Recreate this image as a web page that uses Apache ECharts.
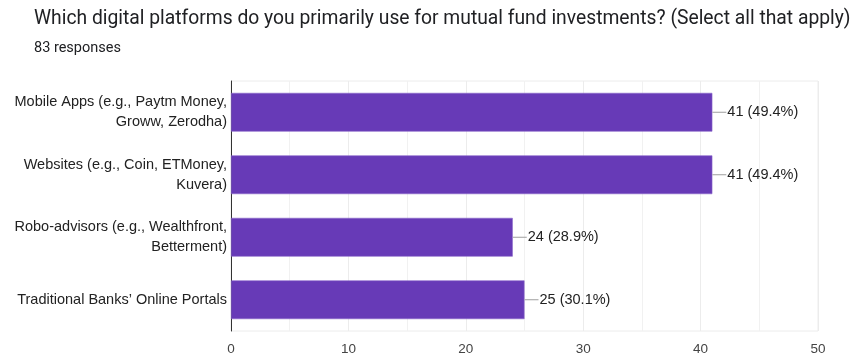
<!DOCTYPE html>
<html>
<head>
<meta charset="utf-8">
<script src="https://cdn.jsdelivr.net/npm/echarts@6/dist/echarts.min.js"></script>
<style>
  html, body { margin: 0; padding: 0; background: #fff; }
  #chart { width: 865px; height: 356px; }
</style>
</head>
<body>
<div id="chart"></div>
<script>
// Survey question and response count
const questionTitle = 'Which digital platforms do you primarily use for mutual fund investments? (Select all that apply)';
const responseNote = '83 responses';

// Answer options (top to bottom) and their counts
const platforms = [
  'Mobile Apps (e.g., Paytm Money,\nGroww, Zerodha)',
  'Websites (e.g., Coin, ETMoney,\nKuvera)',
  'Robo-advisors (e.g., Wealthfront,\nBetterment)',
  'Traditional Banks\u2019 Online Portals'
];
const counts = [41, 41, 24, 25];
const percents = ['49.4', '49.4', '28.9', '30.1'];

// Value axis ticks
const axisTicks = [0, 10, 20, 30, 40, 50];

const chart = echarts.init(document.getElementById('chart'), null, { renderer: 'canvas' });

chart.setOption({
  animation: false,
  backgroundColor: '#ffffff',
  title: [
    {
      text: questionTitle,
      left: 29, top: 5,
      textStyle: { fontFamily: 'Roboto', fontSize: 19.3, fontWeight: 'normal', color: '#202124' }
    },
    {
      text: responseNote,
      left: 29, top: 36,
      textStyle: { fontFamily: 'Roboto', fontSize: 14.5, fontWeight: 'normal', color: '#202124' }
    }
  ],
  grid: { left: 231, right: 47, top: 81, bottom: 24, containLabel: false,
          show: true, borderColor: '#ececec', borderWidth: 1 },
  xAxis: {
    type: 'value',
    min: axisTicks[0],
    max: axisTicks[axisTicks.length - 1],
    interval: 10,
    axisLine: { show: false },
    axisTick: { show: false },
    axisLabel: { fontFamily: 'Liberation Sans, Arial', fontSize: 13.5, color: '#444', margin: 11 },
    splitLine: { show: true, lineStyle: { color: '#ececec', width: 1 } },
    minorTick: { show: false, splitNumber: 2 },
    minorSplitLine: { show: true, lineStyle: { color: '#f1f1f1', width: 1 } }
  },
  yAxis: {
    type: 'category',
    inverse: true,
    data: platforms,
    axisLine: { show: true, lineStyle: { color: '#333', width: 1 } },
    axisTick: { show: false },
    axisLabel: { fontFamily: 'Liberation Sans, Arial', fontSize: 14.5, color: '#222', margin: 4,
                 lineHeight: 20, align: 'right' }
  },
  series: [{
    type: 'bar',
    data: counts,
    barWidth: '62%',
    itemStyle: { color: '#673ab7', borderColor: '#8a67c9', borderWidth: 0.6 },
    label: {
      show: true,
      position: 'right',
      distance: 0,
      formatter: p => '{ln|}{t|' + counts[p.dataIndex] + ' (' + percents[p.dataIndex] + '%)}',
      rich: {
        ln: { width: 14, height: 1, backgroundColor: '#9e9e9e', verticalAlign: 'middle' },
        t: { fontFamily: 'Liberation Sans, Arial', fontSize: 14.5, color: '#222', padding: [0, 0, 0, 1], verticalAlign: 'middle' }
      }
    }
  }]
});
</script>
</body>
</html>
